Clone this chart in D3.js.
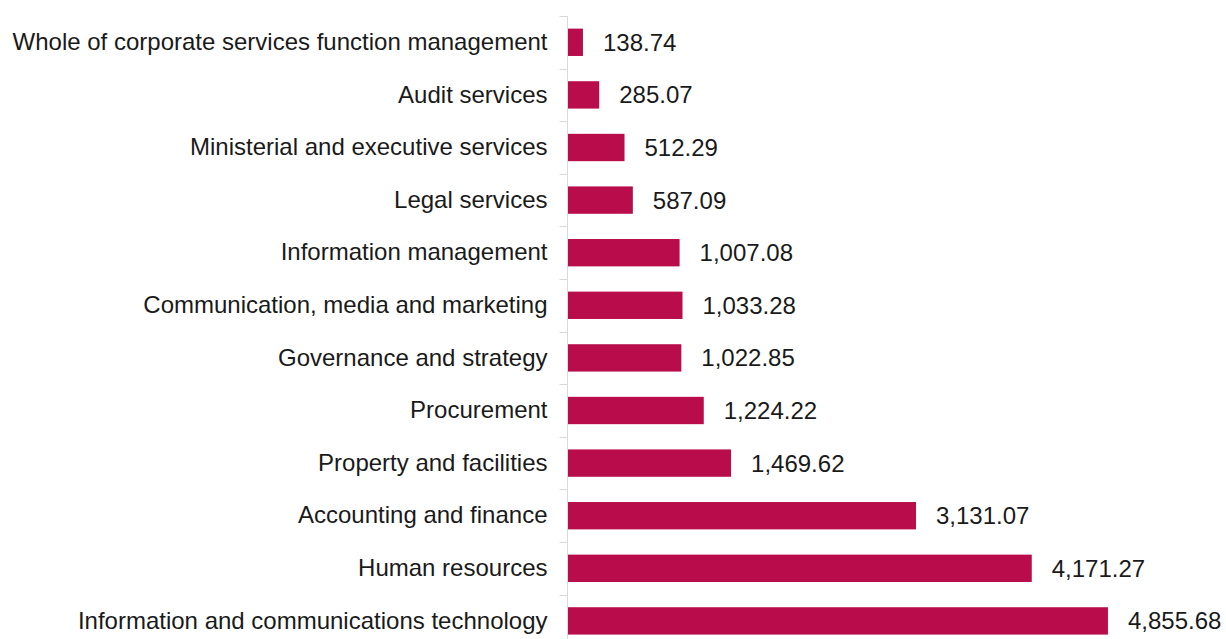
<!DOCTYPE html>
<html><head><meta charset="utf-8">
<script src="https://cdn.jsdelivr.net/npm/d3@7"></script>
<style>body{margin:0;background:#fff}svg{display:block}</style>
</head><body><svg id="c" width="1226" height="639"></svg>
<script>
const categories = ["Whole of corporate services function management","Audit services","Ministerial and executive services","Legal services","Information management","Communication, media and marketing","Governance and strategy","Procurement","Property and facilities","Accounting and finance","Human resources","Information and communications technology"];
const values = [138.74,285.07,512.29,587.09,1007.08,1033.28,1022.85,1224.22,1469.62,3131.07,4171.27,4855.68];

(function(){
const svg = d3.select("#c");
const x0 = 567.5, topY = 16, step = 52.6;
const x = d3.scaleLinear().domain([0, 5000]).range([x0, x0 + 5000*0.1113]);
const y = d3.scaleBand().domain(categories).range([topY, topY + step*categories.length]).paddingInner(0.48).paddingOuter(0.24);

svg.selectAll("rect.bar").data(values).join("rect").attr("class","bar")
  .attr("x", x(0)).attr("y", (d,i)=>y(categories[i]))
  .attr("width", d=>x(d)-x(0)).attr("height", y.bandwidth())
  .attr("fill", "#B80C4B");

const ax = svg.append("g").attr("transform",`translate(${x0},0)`)
  .call(d3.axisLeft(y).tickSize(0).tickPadding(20));
ax.select(".domain").remove();
ax.selectAll("text").attr("font-family","Liberation Sans, Arial, sans-serif").attr("font-size",24).attr("fill","#1a1a1a");
svg.append("line").attr("x1",x0).attr("x2",x0).attr("y1",topY).attr("y2",639).attr("stroke","#d9d9d9").attr("stroke-width",1);
const bounds = d3.range(categories.length+1).map(i=>topY + i*step);
svg.selectAll("line.tk").data(bounds).join("line").attr("class","tk")
  .attr("x1",x0-8).attr("x2",x0).attr("y1",d=>Math.round(d)+0.5).attr("y2",d=>Math.round(d)+0.5)
  .attr("stroke","#d9d9d9");

svg.selectAll("text.val").data(values).join("text").attr("class","val")
  .attr("x", d=>x(d)+20).attr("y",(d,i)=>y(categories[i])+y.bandwidth()/2)
  .attr("dy","0.35em").attr("font-family","Liberation Sans, Arial, sans-serif").attr("font-size",24).attr("fill","#1a1a1a")
  .text(d=>d3.format(",.2f")(d));
})();
</script></body></html>
